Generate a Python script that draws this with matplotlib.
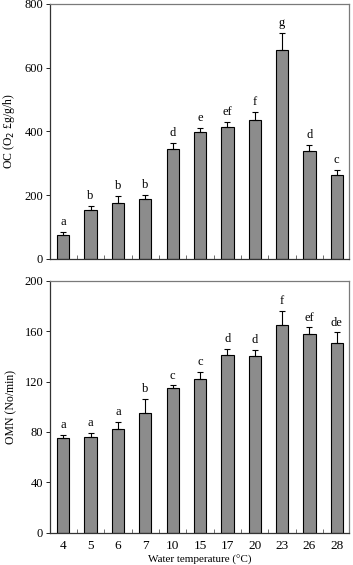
import matplotlib
matplotlib.use("Agg")
import matplotlib.pyplot as plt
import numpy as np

temps = ["4", "5", "6", "7", "10", "15", "17", "20", "23", "26", "28"]
oc_mean = [75, 152, 175, 188, 345, 398, 415, 436, 656, 338, 264]
oc_err = [10, 15, 22, 12, 18, 14, 15, 25, 52, 20, 15]
oc_letters = ["a", "b", "b", "b", "d", "e", "ef", "f", "g", "d", "c"]
omn_mean = [75, 76, 82, 95, 115, 122, 141, 140, 165, 158, 151]
omn_err = [3, 3, 6, 11, 2, 6, 5, 5, 11, 5, 8]
omn_letters = ["a", "a", "a", "b", "c", "c", "d", "d", "f", "ef", "de"]

plt.rcParams['font.family'] = ['Liberation Serif', 'DejaVu Serif']
fig = plt.figure(figsize=(3.53, 5.65), dpi=100)
ax1 = fig.add_axes([0.142, 0.542, 0.847, 0.451])
ax2 = fig.add_axes([0.142, 0.057, 0.847, 0.446])

x = np.arange(len(temps))
spine_c = "#7a7a7a"

def style(ax, means, errs, letters, ylim, yticks, off):
    ax.bar(x, means, width=0.45, color="#8c8c8c", edgecolor="black", linewidth=0.8, zorder=2)
    ax.errorbar(x, means, yerr=[np.zeros(len(errs)), errs], fmt="none", ecolor="black",
                elinewidth=0.8, capsize=2.5, capthick=0.8, zorder=3)
    for xi, m, e, l in zip(x, means, errs, letters):
        ax.text(xi, m + e + off, l, ha="center", va="bottom", fontsize=9)
    ax.set_xlim(-0.48, 10.45)
    ax.set_ylim(*ylim)
    ax.set_yticks(yticks)
    ax.set_xticks(x)
    ax.set_xticks(x[:-1] + 0.5, minor=True)
    ax.tick_params(axis="x", which="major", length=0)
    ax.tick_params(axis="x", which="minor", direction="in", length=3, width=0.6, color="#555555")
    ax.tick_params(axis="y", direction="out", length=3, width=0.6, labelsize=9, pad=2)
    for s in ax.spines.values():
        s.set_color(spine_c)
        s.set_linewidth(0.9)
    ax.spines["bottom"].set_color("#333333")
    ax.spines["left"].set_color("#333333")

style(ax1, oc_mean, oc_err, oc_letters, (0, 800), [0, 200, 400, 600, 800], 12)
ax1.set_xticklabels([])
ax1.set_ylabel("OC (O$_2$ £g/g/h)", fontsize=8.5, labelpad=5)

style(ax2, omn_mean, omn_err, omn_letters, (0, 200), [0, 40, 80, 120, 160, 200], 3)
ax2.set_xticklabels(temps, fontsize=9.5)
ax2.tick_params(axis="x", which="major", pad=5)
ax2.set_ylabel("OMN (No/min)", fontsize=8.5, labelpad=5)
ax2.set_xlabel("Water temperature (°C)", fontsize=8, labelpad=2)

fig.savefig("out.png", dpi=100)
